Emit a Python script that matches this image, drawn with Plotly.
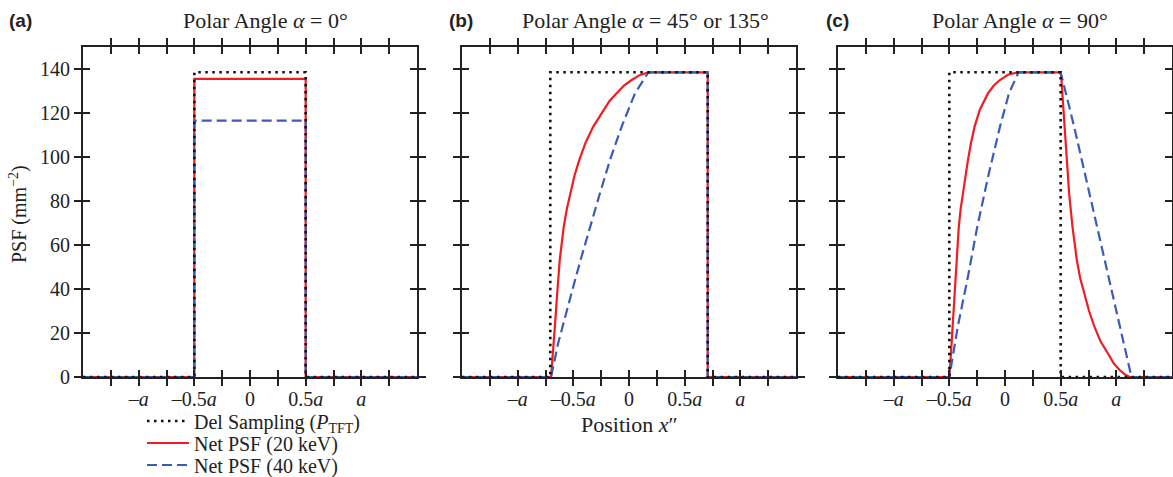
import plotly.graph_objects as go

# ---------------- data (x in units of a, y in mm^-2) ----------------
a_del_x = [-1.5, -0.5, -0.5, 0.5, 0.5, 1.5]
a_del_y = [0, 0, 138.5, 138.5, 0, 0]
a_20_x = [-1.5, -0.5, -0.5, 0.5, 0.5, 1.5]
a_20_y = [0, 0, 135.5, 135.5, 0, 0]
a_40_x = [-1.5, -0.5, -0.5, 0.5, 0.5, 1.5]
a_40_y = [0, 0, 116.5, 116.5, 0, 0]

b_del_x = [-1.5, -0.707, -0.707, 0.707, 0.707, 1.5]
b_del_y = [0, 0, 138.5, 138.5, 0, 0]
b_20_x = [-1.5, -0.70, -0.688, -0.676, -0.660, -0.645, -0.622, -0.586, -0.558,
          -0.526, -0.490, -0.447, -0.390, -0.321, -0.231, -0.175, -0.111,
          -0.045, 0.024, 0.095, 0.174, 0.707, 0.707, 1.5]
b_20_y = [0, 0, 8.0, 15.2, 27.0, 38.0, 53.2, 68.3, 76.5,
          83.5, 91.5, 98.6, 106.5, 113.8, 121.4, 125.5, 129.0,
          132.5, 135.0, 137.2, 138.5, 138.5, 0, 0]
b_40_x = [-1.5, -0.70, -0.637, -0.577, -0.517, -0.435, -0.351, -0.261, -0.171,
          -0.066, 0.054, 0.174, 0.707, 0.707, 1.5]
b_40_y = [0, 0, 15.2, 27.0, 38.0, 53.2, 68.3, 83.5, 98.6,
          113.8, 129.0, 138.5, 138.5, 0, 0]

c_del_x = [-1.5, -0.5, -0.5, 0.5, 0.5, 1.5]
c_del_y = [0, 0, 138.5, 138.5, 0, 0]
c_20_x = [-1.5, -0.5, -0.485, -0.470, -0.445, -0.415, -0.398, -0.379, -0.357,
          -0.333, -0.305, -0.273, -0.227, -0.190, -0.152, -0.100, -0.046,
          0.030, 0.121, 0.5, 0.506, 0.515, 0.536, 0.555, 0.576, 0.606,
          0.645, 0.675, 0.712, 0.755, 0.803, 0.860, 0.924, 0.975, 1.030,
          1.075, 1.121, 1.5]
c_20_y = [0, 0, 11.0, 22.9, 45.6, 68.3, 76.5, 83.5, 91.5,
          98.6, 106.5, 113.8, 121.4, 125.5, 129.0, 132.5, 135.0,
          137.5, 138.5, 138.5, 136.0, 129.0, 113.8, 98.6, 83.5, 68.3,
          53.2, 45.0, 38.0, 30.0, 22.9, 16.0, 10.8, 6.3, 3.2,
          1.2, 0, 0]
c_40_x = [-1.5, -0.5, -0.424, -0.333, -0.249, -0.152, -0.045, 0.036, 0.121,
          0.5, 0.621, 0.758, 0.894, 1.030, 1.136, 1.5]
c_40_y = [0, 0, 22.9, 45.6, 68.3, 91.0, 113.8, 129.0, 138.5,
          138.5, 113.8, 83.5, 53.2, 22.9, 0, 0]

x_tickvals = [-1.25, -1.0, -0.75, -0.5, -0.25, 0, 0.25, 0.5, 0.75, 1.0, 1.25]
x_ticktext = ["", "\u2013<i>a</i>", "", "\u20130.5<i>a</i>", "", "0", "",
              "0.5<i>a</i>", "", "<i>a</i>", ""]
y_tickvals = [0, 20, 40, 60, 80, 100, 120, 140]

titles = ["Polar Angle <i>\u03b1</i> = 0\u00b0",
          "Polar Angle <i>\u03b1</i> = 45\u00b0 or 135\u00b0",
          "Polar Angle <i>\u03b1</i> = 90\u00b0"]
panel_labels = ["(a)", "(b)", "(c)"]
series_names = ["Del Sampling (<i>P</i><sub>TFT</sub>)",
                "Net PSF (20 keV)", "Net PSF (40 keV)"]

# ---------------- layout geometry ----------------
W, H = 1173, 477
ML, MR, MT, MB = 83, 1, 47, 100
PW = W - ML - MR
PH = H - MT - MB

def px(xp):
    return (xp - ML) / PW

def py(yp):
    return (MT + PH - yp) / PH

domains = [[px(83), px(417)], [px(462), px(796)], [px(838), 1.0]]

SERIF = "Liberation Serif, Times New Roman, serif"
SANS = "Liberation Sans, Arial, sans-serif"
INK = "#222222"
RED = "#f01c22"
BLUE = "#3a5cb8"

fig = go.Figure()

panels = [
    (a_del_x, a_del_y, a_20_x, a_20_y, a_40_x, a_40_y),
    (b_del_x, b_del_y, b_20_x, b_20_y, b_40_x, b_40_y),
    (c_del_x, c_del_y, c_20_x, c_20_y, c_40_x, c_40_y),
]

for i, (dx, dy, rx, ry, bx, by) in enumerate(panels):
    xa = "x" if i == 0 else f"x{i+1}"
    ya = "y" if i == 0 else f"y{i+1}"
    show = (i == 0)
    fig.add_trace(go.Scatter(x=rx, y=ry, mode="lines", xaxis=xa, yaxis=ya,
                             line=dict(color=RED, width=2.2),
                             name=series_names[1], legendgroup="r",
                             showlegend=show, legend="legend2"))
    fig.add_trace(go.Scatter(x=bx, y=by, mode="lines", xaxis=xa, yaxis=ya,
                             line=dict(color=BLUE, width=2.2, dash="10px,5px"),
                             name=series_names[2], legendgroup="b",
                             showlegend=show, legend="legend3"))
    fig.add_trace(go.Scatter(x=dx, y=dy, mode="lines", xaxis=xa, yaxis=ya,
                             line=dict(color="#111111", width=2.6, dash="2.5px,4.5px"),
                             name=series_names[0], legendgroup="d",
                             showlegend=show, legend="legend"))
    # dummy traces so the overlay (inside-tick) axes are drawn
    fig.add_trace(go.Scatter(x=[None], y=[None], xaxis=f"x{i+4}", yaxis=f"y{i+4}",
                             showlegend=False, hoverinfo="skip"))

tickfont = dict(family=SERIF, size=20, color=INK)
for i in range(3):
    xk = "xaxis" if i == 0 else f"xaxis{i+1}"
    yk = "yaxis" if i == 0 else f"yaxis{i+1}"
    ya = "y" if i == 0 else f"y{i+1}"
    xa = "x" if i == 0 else f"x{i+1}"
    fig.update_layout(**{
        xk: dict(domain=domains[i], anchor=ya, range=[-1.5, 1.5],
                 showgrid=False, zeroline=False, showline=True, linecolor=INK,
                 linewidth=2, mirror="ticks", ticks="outside", ticklen=7,
                 tickwidth=2, tickcolor=INK, tickvals=x_tickvals,
                 showticklabels=False, layer="below traces"),
        yk: dict(domain=[0, 1], anchor=xa, range=[0, 150],
                 showgrid=False, zeroline=False, showline=True, linecolor=INK,
                 linewidth=2, mirror="ticks", ticks="outside", ticklen=7,
                 tickwidth=2, tickcolor=INK, tickvals=y_tickvals,
                 showticklabels=(i == 0), tickfont=tickfont,
                 layer="below traces"),
        f"xaxis{i+4}": dict(overlaying=xa, anchor=f"y{i+4}", range=[-1.5, 1.5],
                            showgrid=False, zeroline=False, showline=False,
                            mirror="ticks", ticks="inside", ticklen=7, tickwidth=2,
                            tickcolor=INK, tickvals=x_tickvals,
                            ticktext=x_ticktext, tickfont=tickfont,
                            showticklabels=True, side="bottom",
                            ticklabelstandoff=8),
        f"yaxis{i+4}": dict(overlaying=ya, anchor=f"x{i+4}", range=[0, 150],
                            showgrid=False, zeroline=False, showline=False,
                            mirror="ticks", ticks="inside", ticklen=7, tickwidth=2,
                            tickcolor=INK, tickvals=y_tickvals,
                            showticklabels=False, side="left"),
    })

annotations = []
title_cx = [265, 645, 1020]
label_cx = [20, 461, 837]
for i in range(3):
    annotations.append(dict(text=titles[i], x=px(title_cx[i]), y=py(21),
                            xref="paper", yref="paper", showarrow=False,
                            xanchor="center", yanchor="middle",
                            font=dict(family=SERIF, size=22, color=INK)))
    annotations.append(dict(text="<b>" + panel_labels[i] + "</b>", x=px(label_cx[i]),
                            y=py(21), xref="paper", yref="paper", showarrow=False,
                            xanchor="center", yanchor="middle",
                            font=dict(family=SANS, size=19, color=INK)))
annotations.append(dict(text="PSF (mm<sup>\u22122</sup>)", x=px(18), y=py(214),
                        xref="paper", yref="paper", showarrow=False, textangle=-90,
                        xanchor="center", yanchor="middle",
                        font=dict(family=SERIF, size=20, color=INK)))
annotations.append(dict(text="Position <i>x</i>\u2033", x=px(629), y=py(424),
                        xref="paper", yref="paper", showarrow=False,
                        xanchor="center", yanchor="middle",
                        font=dict(family=SERIF, size=22, color=INK)))

def legend_at(row_y):
    return dict(x=px(142), y=py(row_y), xanchor="left", yanchor="middle",
                font=dict(family=SERIF, size=20, color=INK),
                bgcolor="rgba(0,0,0,0)", borderwidth=0, itemwidth=42)

fig.update_layout(
    width=W, height=H,
    margin=dict(l=ML, r=MR, t=MT, b=MB, autoexpand=False),
    paper_bgcolor="white", plot_bgcolor="white",
    annotations=annotations,
    legend=legend_at(421),
    legend2=legend_at(443),
    legend3=legend_at(465),
    showlegend=True,
)

fig.write_html("out.html")
